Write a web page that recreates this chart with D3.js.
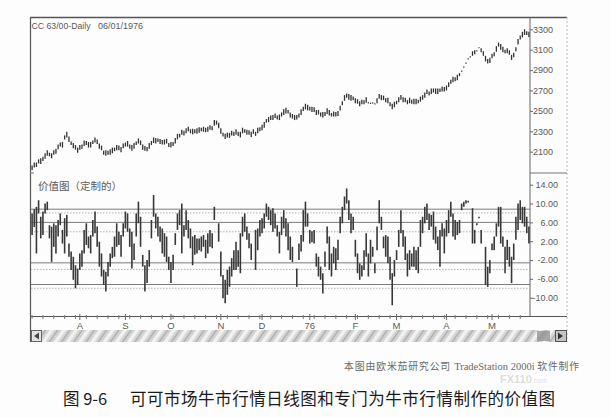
<!DOCTYPE html>
<html><head><meta charset="utf-8">
<script src="https://cdn.jsdelivr.net/npm/d3@7"></script>
<style>body{margin:0;background:#fff}svg{display:block}</style>
</head><body><svg id="c" width="611" height="418"></svg>
<script>
// ---------- data ----------
const title = "CC 63/00-Daily";
const titleDate = "06/01/1976";
const panelLabel = "价值图（定制的）";
const monthLabels = ["", "A", "S", "O", "N", "D", "76", "F", "M", "A", "M"];
const monthBars = [22, 21, 21, 23, 19, 22, 21, 19, 23, 21, 18];
const priceTicks = [2100, 2300, 2500, 2700, 2900, 3100, 3300];
const valueTicks = [14, 10, 6, 2, -2, -6, -10];
const valueTickLabels = ["14.00", "10.00", "6.00", "2.00", "-2.00", "-6.00", "-10.00"];
const solidLevels = [8.8, 6.0, -2.6, -7.2];
const dottedLevels = [8, 4, -4, -8];

const priceHigh = [
1965,1995,1995,2025,2035,2050,2085,2115,2090,2085,
2115,2130,2170,2190,2195,2260,2295,2250,2200,2185,
2165,2140,2165,2170,2210,2205,2195,2195,2210,2240,
2220,2180,2160,2110,2115,2110,2125,2140,2140,2165,
2160,2145,2180,2190,2205,2170,2165,2185,2200,2230,
2210,2170,2155,2145,2185,2205,2240,2235,2230,2225,
2215,2220,2225,2185,2195,2195,2235,2275,2275,2315,
2305,2330,2345,2320,2325,2320,2330,2340,2335,2345,
2335,2345,2360,2350,2410,2405,2385,2330,2285,2275,
2285,2285,2305,2295,2320,2295,2295,2335,2320,2315,
2310,2295,2320,2295,2335,2340,2365,2390,2420,2440,
2455,2460,2475,2455,2465,2485,2515,2530,2510,2485,
2470,2460,2460,2475,2515,2540,2570,2560,2540,2540,
2535,2510,2510,2485,2490,2490,2525,2510,2480,2495,
2490,2500,2550,2595,2655,2670,2665,2655,2640,2625,
2615,2595,2610,2605,2635,2585,2580,2585,2575,2625,
2665,2655,2650,2625,2630,2585,2570,2590,2600,2635,
2655,2635,2630,2605,2630,2610,2620,2620,2610,2640,
2655,2680,2710,2690,2720,2720,2720,2720,2720,2740,
2735,2750,2780,2805,2835,2830,2855,2870,2895,2935,
2975,3015,3035,3085,3095,3095,3125,3115,3085,3040,
3010,3020,3060,3075,3135,3170,3155,3130,3100,3115,
3095,3050,3070,3125,3205,3240,3275,3300,3280,3275];
const priceLow = [
1920,1945,1950,1985,1980,2010,2030,2060,2055,2035,
2070,2080,2125,2150,2140,2220,2240,2195,2165,2135,
2120,2090,2120,2130,2155,2165,2140,2140,2175,2190,
2175,2130,2115,2070,2060,2070,2070,2085,2105,2115,
2115,2095,2135,2150,2150,2130,2110,2130,2165,2180,
2165,2120,2110,2105,2130,2165,2185,2180,2195,2175,
2170,2170,2180,2145,2140,2155,2180,2220,2240,2265,
2260,2280,2300,2280,2270,2280,2275,2285,2300,2295,
2290,2295,2315,2310,2355,2365,2330,2275,2250,2225,
2240,2235,2260,2255,2265,2255,2240,2280,2285,2265,
2265,2245,2275,2255,2280,2300,2310,2335,2385,2390,
2410,2410,2430,2415,2410,2445,2460,2475,2475,2435,
2425,2410,2415,2435,2460,2500,2515,2505,2505,2490,
2490,2460,2465,2445,2435,2450,2470,2455,2445,2445,
2445,2450,2505,2555,2600,2630,2610,2600,2605,2575,
2570,2545,2565,2565,2580,2575,2570,2575,2565,2575,
2620,2605,2605,2585,2575,2545,2515,2535,2565,2585,
2610,2585,2585,2565,2575,2570,2565,2565,2575,2590,
2610,2630,2665,2650,2665,2680,2665,2665,2685,2690,
2690,2700,2735,2765,2780,2790,2800,2840,2885,2925,
2965,3005,3025,3040,3055,3085,3115,3075,3040,2985,
2965,2970,3015,3035,3080,3130,3100,3075,3065,3065,
3050,3000,3025,3085,3150,3200,3220,3245,3245,3225];

const valueHigh = [
7.9,8.8,9.3,10.7,7.2,8.3,10.0,10.4,5.4,5.1,
5.8,5.4,6.5,7.9,4.4,6.9,7.6,1.5,-0.2,-1.3,
-3.1,-3.8,-0.6,0.1,4.4,5.8,3.0,3.3,6.5,8.3,
5.1,1.9,-0.6,-4.1,-4.5,-2.4,-0.6,0.8,3.0,5.8,
4.0,3.3,5.8,8.3,7.9,4.7,4.0,1.5,7.9,10.4,
7.2,-0.9,-3.1,-2.0,0.1,6.5,11.8,7.9,7.2,5.1,
4.7,3.7,3.0,-1.3,-2.4,-0.9,3.7,7.9,8.6,10.0,
5.4,8.6,6.5,4.7,3.0,3.3,2.6,2.6,3.0,3.3,
2.3,3.7,4.4,3.7,9.3,null,5.8,-0.2,-5.2,-6.2,
-4.1,-3.4,-1.6,0.1,1.9,0.1,3.7,7.2,7.9,5.1,
3.7,1.5,null,4.4,4.7,6.5,6.9,7.9,10.0,9.3,
8.6,9.0,7.9,5.4,4.0,7.2,8.6,6.9,5.8,3.0,
0.8,null,-3.8,1.5,3.3,8.6,10.4,7.9,4.4,4.1,
4.4,-0.6,-1.3,-3.4,-4.8,-0.2,5.1,3.0,-0.6,0.8,
0.5,2.3,7.2,9.3,11.5,13.2,10.7,7.9,7.2,2.3,
-0.6,-2.7,-3.1,0.1,3.7,-0.6,2.3,0.8,-2.7,5.1,
10.7,7.2,3.0,3.3,3.0,-1.3,-4.8,-2.0,0.1,4.4,
8.6,4.4,3.0,-0.6,0.1,-0.6,0.8,0.1,0.8,6.5,
7.2,9.3,10.0,7.9,7.6,8.3,5.1,3.0,4.4,5.8,
4.7,6.5,8.6,10.4,7.9,6.5,6.1,6.5,10.0,10.4,
10.7,10.6,null,9.0,4.4,5.8,7.2,4.4,null,0.8,
-3.4,-2.0,1.5,3.0,5.8,9.3,9.3,3.0,0.8,2.3,
0.8,-1.3,1.5,7.2,10.0,10.7,9.3,9.3,7.2,5.1];
const valueLow = [
3.3,5.0,-0.6,7.9,2.6,3.3,7.9,8.6,2.6,-2.4,
0.8,-0.6,3.0,5.4,1.5,-0.6,3.0,-1.3,-4.1,-6.2,
-8.0,-7.3,-4.1,-3.4,-0.6,1.2,0.5,-0.6,3.0,3.7,
0.8,-3.4,-5.5,-7.3,-8.7,-5.5,-3.4,-1.6,-1.3,0.8,
1.2,-1.3,3.0,4.7,4.0,0.8,-3.8,-2.0,3.0,5.8,
0.8,-3.4,-8.7,-6.9,-3.4,2.6,7.2,4.7,3.0,1.9,
-0.6,-1.3,-2.4,-4.1,-6.9,-4.1,1.2,4.4,5.4,-0.6,
3.0,4.4,2.6,0.5,-3.1,-0.9,-0.6,0.1,-0.2,0.8,
-1.6,-0.6,0.8,0.5,6.5,null,1.9,-5.5,-10.1,-11.2,
-9.4,-7.7,-5.5,-4.1,-4.1,-3.4,-4.8,3.0,4.0,2.3,
0.5,-2.0,null,-4.1,0.1,3.0,3.7,4.7,7.2,6.5,
5.4,4.0,4.7,3.0,-0.6,3.3,4.7,3.0,0.1,-2.0,
-2.4,null,-7.7,-2.0,-0.2,1.9,5.1,5.1,1.5,1.8,
1.5,-3.4,-5.5,-6.2,-9.1,-3.4,1.5,-4.1,-5.5,-2.7,
-4.1,-2.0,3.7,5.8,8.6,10.0,6.5,3.7,4.4,-1.3,
-4.8,-6.2,-5.5,-4.1,-1.3,-5.5,-2.7,-1.3,-4.8,0.1,
5.8,4.4,0.5,-1.3,-2.7,-6.2,-11.6,-5.5,-2.0,0.8,
3.7,0.8,-2.0,-5.5,-4.1,-3.4,-3.4,-4.1,-4.8,0.8,
3.7,5.8,6.5,4.4,5.1,2.3,1.5,0.1,-3.4,3.0,
-0.6,3.0,3.7,7.2,3.0,2.3,3.3,3.7,8.6,9.3,
10.0,10.2,null,1.5,1.5,5.4,6.9,1.5,null,-7.3,
-7.7,-4.8,0.1,0.1,3.0,5.1,1.5,0.8,-4.8,-2.0,
-3.4,-6.9,-2.0,2.3,4.4,6.5,5.8,5.1,3.7,1.5];

const footer1 = "本图由欧米茄研究公司";
const footer2 = "TradeStation 2000i";
const footer3 = "软件制作";
const figNo = "图 9-6";
const caption = "可可市场牛市行情日线图和专门为牛市行情制作的价值图";
const watermark = ["FX110", ".com"];

// ---------- drawing ----------
const svg = d3.select("#c");
const N = priceHigh.length;
const L = 31, R = 530, RR = 567;
const x = d3.scaleBand().domain(d3.range(N)).range([L, R]);
const cx = i => x(i) + x.bandwidth() / 2;
const yP = d3.scaleLinear().domain([2100, 3300]).range([151.7, 29.3]);
const yV = d3.scaleLinear().domain([-10, 14]).range([297.7, 184.7]);
const txt = "#5a5a5a";
const sans = "'Liberation Sans', Arial, sans-serif";
const cjk = "'Noto Sans CJK SC', sans-serif";

svg.append("rect").attr("width", 611).attr("height", 418).attr("fill", "#fdfdfd");

// defs: scrollbar texture
const defs = svg.append("defs");
const pat = defs.append("pattern").attr("id", "hatch").attr("width", 10).attr("height", 10)
  .attr("patternUnits", "userSpaceOnUse").attr("patternTransform", "rotate(35)");
pat.append("rect").attr("width", 10).attr("height", 10).attr("fill", "#d3d3d3");
pat.append("rect").attr("width", 3.5).attr("height", 10).attr("fill", "#f2f2f2");
pat.append("rect").attr("x", 6).attr("width", 1.2).attr("height", 10).attr("fill", "#a8a8a8");

// frame
svg.append("line").attr("x1", 30).attr("x2", RR).attr("y1", 17.5).attr("y2", 17.5).attr("stroke", "#555").attr("stroke-width", 1.3);
svg.append("line").attr("x1", 30.5).attr("x2", 30.5).attr("y1", 17).attr("y2", 342).attr("stroke", "#555").attr("stroke-width", 1.2);
svg.append("line").attr("x1", R).attr("x2", R).attr("y1", 17).attr("y2", 316).attr("stroke", "#666").attr("stroke-width", 1);
svg.append("line").attr("x1", RR).attr("x2", RR).attr("y1", 17).attr("y2", 342).attr("stroke", "#bbb").attr("stroke-width", 1).attr("stroke-dasharray", "2,2");
svg.append("line").attr("x1", R).attr("x2", RR).attr("y1", 173).attr("y2", 173).attr("stroke", "#777");
svg.append("line").attr("x1", 30).attr("x2", 34).attr("y1", 173).attr("y2", 173).attr("stroke", "#777");

// header
svg.append("text").attr("x", 31.5).attr("y", 29).attr("font-family", sans).attr("font-size", 9)
  .attr("fill", txt).attr("textLength", 59).attr("lengthAdjust", "spacingAndGlyphs").text(title);
svg.append("text").attr("x", 98).attr("y", 29).attr("font-family", sans).attr("font-size", 9)
  .attr("fill", txt).attr("textLength", 45).attr("lengthAdjust", "spacingAndGlyphs").text(titleDate);

// price bars
svg.append("g").selectAll("line").data(d3.range(N)).join("line")
  .attr("x1", cx).attr("x2", cx)
  .attr("y1", i => yP(priceHigh[i])).attr("y2", i => Math.max(yP(priceLow[i]), yP(priceHigh[i]) + 1.2))
  .attr("stroke", "#333").attr("stroke-width", 1.3);

// price axis
const pAxis = svg.append("g").attr("transform", `translate(${R},0)`)
  .call(d3.axisRight(yP).tickValues(priceTicks).tickSize(3).tickFormat(d3.format("d")));
pAxis.select(".domain").remove();
pAxis.selectAll("line").attr("stroke", "#666");
pAxis.selectAll("text").attr("x", 23).attr("text-anchor", "end").attr("font-family", sans)
  .attr("font-size", 9).attr("fill", txt);

// value panel label
svg.append("text").attr("x", 38).attr("y", 190).attr("font-family", cjk).attr("font-size", 10.5)
  .attr("fill", txt).text(panelLabel);

// level lines
svg.append("g").selectAll("line").data(dottedLevels).join("line")
  .attr("x1", L).attr("x2", R).attr("y1", d => yV(d)).attr("y2", d => yV(d))
  .attr("stroke", "#aaa").attr("stroke-width", 0.9).attr("stroke-dasharray", "1.5,1.5");
svg.append("g").selectAll("line").data(solidLevels).join("line")
  .attr("x1", L).attr("x2", R).attr("y1", d => yV(d)).attr("y2", d => yV(d))
  .attr("stroke", "#7a7a7a").attr("stroke-width", 1);

// value bars
const vIdx = d3.range(N).filter(i => valueHigh[i] != null);
svg.append("g").selectAll("line").data(vIdx).join("line")
  .attr("x1", cx).attr("x2", cx)
  .attr("y1", i => yV(valueHigh[i])).attr("y2", i => Math.max(yV(valueLow[i]), yV(valueHigh[i]) + 1.5))
  .attr("stroke", "#383838").attr("stroke-width", 1.6);

// value axis
const vAxis = svg.append("g").attr("transform", `translate(${R},0)`)
  .call(d3.axisRight(yV).tickValues(valueTicks).tickSize(3)
    .tickFormat((d, k) => valueTickLabels[k]));
vAxis.select(".domain").remove();
vAxis.selectAll("line").attr("stroke", "#666");
vAxis.selectAll("text").attr("x", 28).attr("text-anchor", "end").attr("font-family", sans)
  .attr("font-size", 9).attr("fill", txt);

// time axis
svg.append("line").attr("x1", 30).attr("x2", RR).attr("y1", 316.5).attr("y2", 316.5).attr("stroke", "#555");
const starts = [0, ...d3.cumsum(monthBars)].slice(0, monthBars.length);
const weekTicks = d3.range(0, N, 5);
svg.append("g").selectAll("line").data(weekTicks).join("line")
  .attr("x1", cx).attr("x2", cx).attr("y1", 315).attr("y2", 319).attr("stroke", "#777");
svg.append("g").selectAll("line").data(starts.slice(1)).join("line")
  .attr("x1", cx).attr("x2", cx).attr("y1", 314).attr("y2", 320).attr("stroke", "#666");
svg.append("g").selectAll("text").data(starts.map((s, k) => ({s, k})).filter(d => monthLabels[d.k]))
  .join("text").attr("x", d => cx(d.s)).attr("y", 328.5).attr("text-anchor", "middle")
  .attr("font-family", sans).attr("font-size", 9.5).attr("fill", txt).text(d => monthLabels[d.k]);

// scrollbar
svg.append("rect").attr("x", 31).attr("y", 330).attr("width", RR - 31).attr("height", 12).attr("fill", "url(#hatch)");
svg.append("rect").attr("x", 31.5).attr("y", 330.5).attr("width", 10).attr("height", 11).attr("fill", "#e4e4e4").attr("stroke", "#666");
svg.append("path").attr("d", "M34,336 L39,332.5 L39,339.5 Z").attr("fill", "#444");
svg.append("rect").attr("x", 537).attr("y", 331).attr("width", 13).attr("height", 10).attr("fill", "#909090").attr("opacity", 0.75);
svg.append("rect").attr("x", 555.5).attr("y", 330.5).attr("width", 11).attr("height", 11).attr("fill", "#c4c4c4").attr("stroke", "#555");
svg.append("path").attr("d", "M563,336 L558,332.5 L558,339.5 Z").attr("fill", "#333");

// watermark (small, between footer and caption)
const wm = svg.append("text").attr("x", 500).attr("y", 382.5).attr("fill", "#dedede").attr("font-family", sans).attr("font-weight", "bold");
wm.append("tspan").attr("font-size", 11).text(watermark[0]);
wm.append("tspan").attr("font-size", 7).attr("font-weight", "normal").text(watermark[1]);

// footer
const ft = svg.append("text").attr("x", 580).attr("y", 369.5).attr("text-anchor", "end").attr("fill", "#6a6a6a");
ft.append("tspan").attr("font-family", cjk).attr("font-size", 9.8).attr("letter-spacing", 0.9).text(footer1 + " ");
ft.append("tspan").attr("font-family", "'Liberation Serif', serif").attr("font-size", 10.5).text(footer2 + " ");
ft.append("tspan").attr("font-family", cjk).attr("font-size", 9.8).attr("letter-spacing", 0.9).text(footer3);

// caption
svg.append("text").attr("x", 63).attr("y", 405).attr("font-family", cjk).attr("font-size", 16.5)
  .attr("fill", "#1a1a1a").text(figNo);
svg.append("text").attr("x", 130).attr("y", 405).attr("font-family", cjk).attr("font-size", 16.5)
  .attr("fill", "#1a1a1a").attr("textLength", 425).attr("lengthAdjust", "spacing").text(caption);
</script></body></html>
